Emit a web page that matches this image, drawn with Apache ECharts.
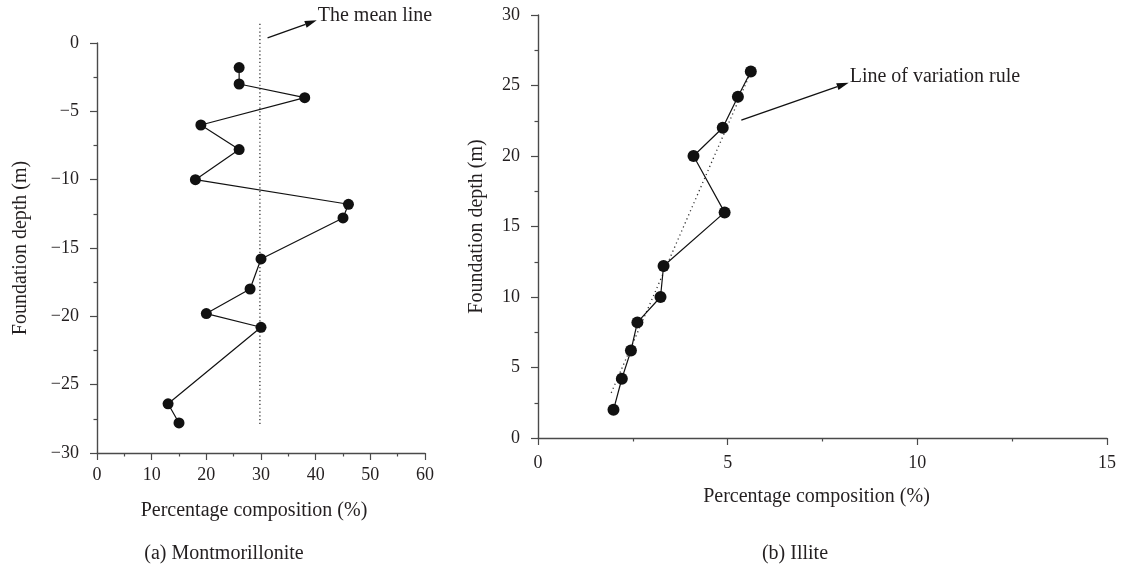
<!DOCTYPE html>
<html><head><meta charset="utf-8">
<script src="https://cdn.jsdelivr.net/npm/echarts@6/dist/echarts.min.js"></script>
<style>html,body{margin:0;padding:0;background:#fff}#c{width:1123px;height:567px}</style>
</head><body><div id="c"></div>
<script>
// (a) Montmorillonite
const montPct = [26, 26, 38, 19, 26, 18, 46, 45, 30, 28, 20, 30, 13, 15];
const montDepth = [-1.8, -3, -4, -6, -7.8, -10, -11.8, -12.8, -15.8, -18, -19.8, -20.8, -26.4, -27.8];
const meanPct = [29.8, 29.8];
const meanDepth = [1.4, -27.9];
// (b) Illite
const illPct = [5.61, 5.27, 4.87, 4.10, 4.92, 3.31, 3.23, 2.62, 2.45, 2.21, 1.99];
const illDepth = [26, 24.2, 22, 20, 16, 12.2, 10, 8.2, 6.2, 4.2, 2];
const trendPct = [1.93, 5.62];
const trendDepth = [3.2, 26];
// annotation anchors (data coords)
const meanArrow = [[31.2, 0.37], [40.2, 1.66]];
const meanLabel = "The mean line";
const ruleArrow = [[5.36, 22.55], [8.19, 25.2]];
const ruleLabel = "Line of variation rule";
const xTitle = "Percentage composition (%)";
const yTitle = "Foundation depth (m)";
const capA = "(a) Montmorillonite";
const capB = "(b) Illite";

const FONT = "Liberation Serif";
const TXT = "#231f20";
const AX = "#4a4a4a";
const zip = (a, b) => a.map((v, i) => [v, b[i]]);

function axisCommon(extra) {
  return Object.assign({
    axisLine: {show: true, onZero: false, lineStyle: {color: AX, width: 1.4}},
    axisTick: {show: true, inside: false, length: 7, lineStyle: {color: AX, width: 1.2}},
    minorTick: {show: true, splitNumber: 2, length: 3.5, lineStyle: {color: AX, width: 1.2}},
    splitLine: {show: false},
    nameTextStyle: {color: TXT, fontFamily: FONT, fontSize: 20}
  }, extra);
}
const lbl = (margin, fmt) => ({color: TXT, fontFamily: FONT, fontSize: 18, margin, formatter: fmt});
const nts = (pad) => ({color: TXT, fontFamily: FONT, fontSize: 20, padding: pad});

const chart = echarts.init(document.getElementById('c'), null, {renderer: 'canvas'});
const option = {
  animation: false,
  backgroundColor: '#fff',
  grid: [
    {left: 97, top: 43, width: 328, height: 410},
    {left: 538, top: 15, width: 569, height: 423}
  ],
  title: [
    {text: capA, left: 219, top: 539, textAlign: 'center', textStyle: {color: TXT, fontFamily: FONT, fontSize: 20, fontWeight: 'normal'}},
    {text: capB, left: 790, top: 539, textAlign: 'center', textStyle: {color: TXT, fontFamily: FONT, fontSize: 20, fontWeight: 'normal'}}
  ],
  xAxis: [
    axisCommon({gridIndex: 0, type: 'value', min: 0, max: 60, interval: 10, name: xTitle, nameLocation: 'middle', nameGap: 48,
      nameTextStyle: nts([0, 14, 0, 0]), axisLabel: lbl(13)}),
    axisCommon({gridIndex: 1, type: 'value', min: 0, max: 15, interval: 5, name: xTitle, nameLocation: 'middle', nameGap: 49,
      nameTextStyle: nts([0, 12, 0, 0]), axisLabel: lbl(16)})
  ],
  yAxis: [
    axisCommon({gridIndex: 0, type: 'value', min: -30, max: 0, interval: 5, name: yTitle, nameLocation: 'middle', nameGap: 66,
      axisLabel: lbl(18, v => String(v).replace('-', '\u2212'))}),
    axisCommon({gridIndex: 1, type: 'value', min: 0, max: 30, interval: 5, name: yTitle, nameLocation: 'middle', nameGap: 51,
      axisLabel: lbl(18)})
  ],
  series: [
    {type: 'line', xAxisIndex: 0, yAxisIndex: 0, data: zip(meanPct, meanDepth), clip: false, symbol: 'none',
      lineStyle: {color: '#333', width: 1.3, type: [1.2, 2.6]}, z: 2},
    {type: 'line', xAxisIndex: 0, yAxisIndex: 0, data: zip(montPct, montDepth), clip: false, symbol: 'circle', symbolSize: 11,
      itemStyle: {color: '#111'}, lineStyle: {color: '#111', width: 1.2}, z: 3},
    {type: 'line', xAxisIndex: 1, yAxisIndex: 1, data: zip(trendPct, trendDepth), clip: false, symbol: 'none',
      lineStyle: {color: '#333', width: 1.3, type: [1.2, 3.2]}, z: 2},
    {type: 'line', xAxisIndex: 1, yAxisIndex: 1, data: zip(illPct, illDepth), clip: false, symbol: 'circle', symbolSize: 12,
      itemStyle: {color: '#111'}, lineStyle: {color: '#111', width: 1.2}, z: 3}
  ]
};
chart.setOption(option);

function arrowGraphics(gridIndex, pts, label, dyText) {
  const a = chart.convertToPixel({gridIndex}, pts[0]);
  const b = chart.convertToPixel({gridIndex}, pts[1]);
  const dx = b[0] - a[0], dy = b[1] - a[1];
  const len = Math.hypot(dx, dy), ux = dx / len, uy = dy / len;
  const hl = 12, hw = 3.5;
  const base = [b[0] - ux * hl, b[1] - uy * hl];
  return [
    {type: 'line', shape: {x1: a[0], y1: a[1], x2: base[0], y2: base[1]}, style: {stroke: '#111', lineWidth: 1.3}},
    {type: 'polygon', shape: {points: [b, [base[0] - uy * hw, base[1] + ux * hw], [base[0] + uy * hw, base[1] - ux * hw]]}, style: {fill: '#111'}},
    {type: 'text', x: b[0] + 1, y: b[1] + dyText, style: {text: label, fill: TXT, font: '20px "' + FONT + '"', textVerticalAlign: 'middle'}}
  ];
}
chart.setOption({graphic: arrowGraphics(0, meanArrow, meanLabel, -5).concat(arrowGraphics(1, ruleArrow, ruleLabel, -6))});
</script></body></html>
